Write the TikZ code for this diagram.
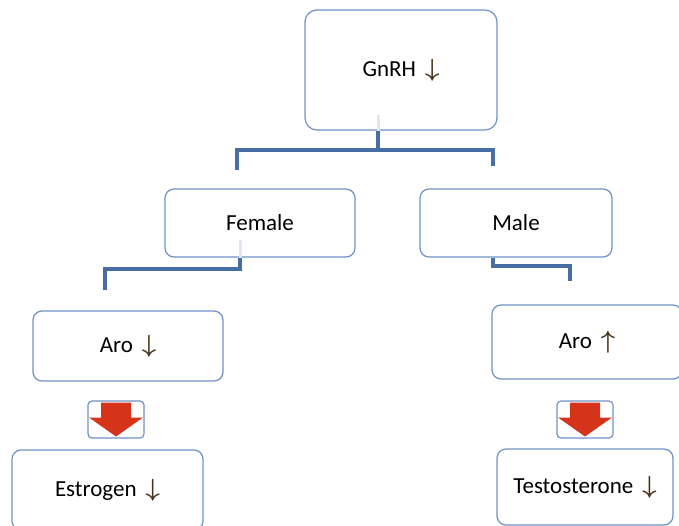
\documentclass[tikz,border=0pt]{standalone}
\usepackage{fontspec}
\setmainfont{Carlito}
\usepackage{bm}
\usepackage{tikz}
\usetikzlibrary{positioning}
\definecolor{boxline}{RGB}{110,146,200}
\definecolor{linkblue}{RGB}{70,110,165}
\definecolor{linkfade}{RGB}{224,230,242}
\definecolor{arrowred}{RGB}{214,52,26}
\definecolor{arrowtxt}{RGB}{70,50,25}
\newcommand{\arrdown}{\,\textcolor{arrowtxt}{$\bm{\downarrow}$}}
\newcommand{\arrup}{\,\textcolor{arrowtxt}{$\bm{\uparrow}$}}
\tikzset{
    x=1pt, y=-1pt, % picture units in pixels, y going down
    every node/.style={font=\fontsize{23}{27}\selectfont},
    box/.style={draw=boxline, line width=1.2pt, rounded corners=9pt, fill=white,
        minimum width=190pt, minimum height=68pt, inner sep=0pt}, % text boxes
    redbox/.style={draw=boxline, line width=1.2pt, rounded corners=4pt,
        minimum width=56pt, minimum height=37pt, inner sep=0pt}, % box round a red arrow
    link/.style={draw=linkblue, line width=4pt}, % tree connectors
    fade/.style={draw=linkfade, line width=3pt}, % pale end inside a box
}

\begin{document}
\begin{tikzpicture}
\useasboundingbox (0,0) rectangle (679,526);
\clip (0,0) rectangle (679,526);

\node[box, minimum width=192pt, minimum height=120pt, rounded corners=12pt] (gnrh) at (401,70) {GnRH \arrdown};
\node[box]                            (female) at (260,223) {Female};
\node[box, minimum width=192pt]       (male)   at (516,223) {Male};
\node[box, minimum height=70pt]       (arof)   at (128,346) {Aro \arrdown};
\node[box, minimum height=74pt]       (arom)   at (587,342) {Aro \arrup};
\node[redbox]                         (redf)   at (116,419.5) {};
\node[redbox]                         (redm)   at (585,419.5) {};
\node[box, minimum width=191pt, minimum height=80pt] (estrogen) at (107.5,490) {Estrogen \arrdown};
\node[box, minimum width=176pt, minimum height=76pt] (testo)    at (585,487)   {Testosterone \arrdown};

% red block arrows
\foreach \b in {redf, redm}
    \fill[arrowred, shift={(\b.center)}] (-15,-17) -- (15,-17) -- (15,-2) -- (27,-2)
        -- (0,17) -- (-27,-2) -- (-15,-2) -- cycle;

% tree connectors
\coordinate (gsplit) at (378,150);
\coordinate (fsplit) at (240,269);
\coordinate (msplit) at (493,266);
\draw[fade] (gsplit |- gnrh.south) -- ++(0,-16);
\draw[fade] (fsplit |- female.south) -- ++(0,-18);
\draw[link] (gsplit |- gnrh.south) -- (gsplit);
\draw[link] (gsplit) -| ([yshift=18pt]female.north -| 237,0);
\draw[link] (gsplit) -| ([yshift=22pt]male.north -| 493,0);
\draw[link] (fsplit |- female.south) -- (fsplit) -| ([yshift=20pt]arof.north -| 105,0);
\draw[link] (msplit |- male.south) -- (msplit) -| ([yshift=23pt]arom.north -| 570,0);
\end{tikzpicture}
\end{document}
